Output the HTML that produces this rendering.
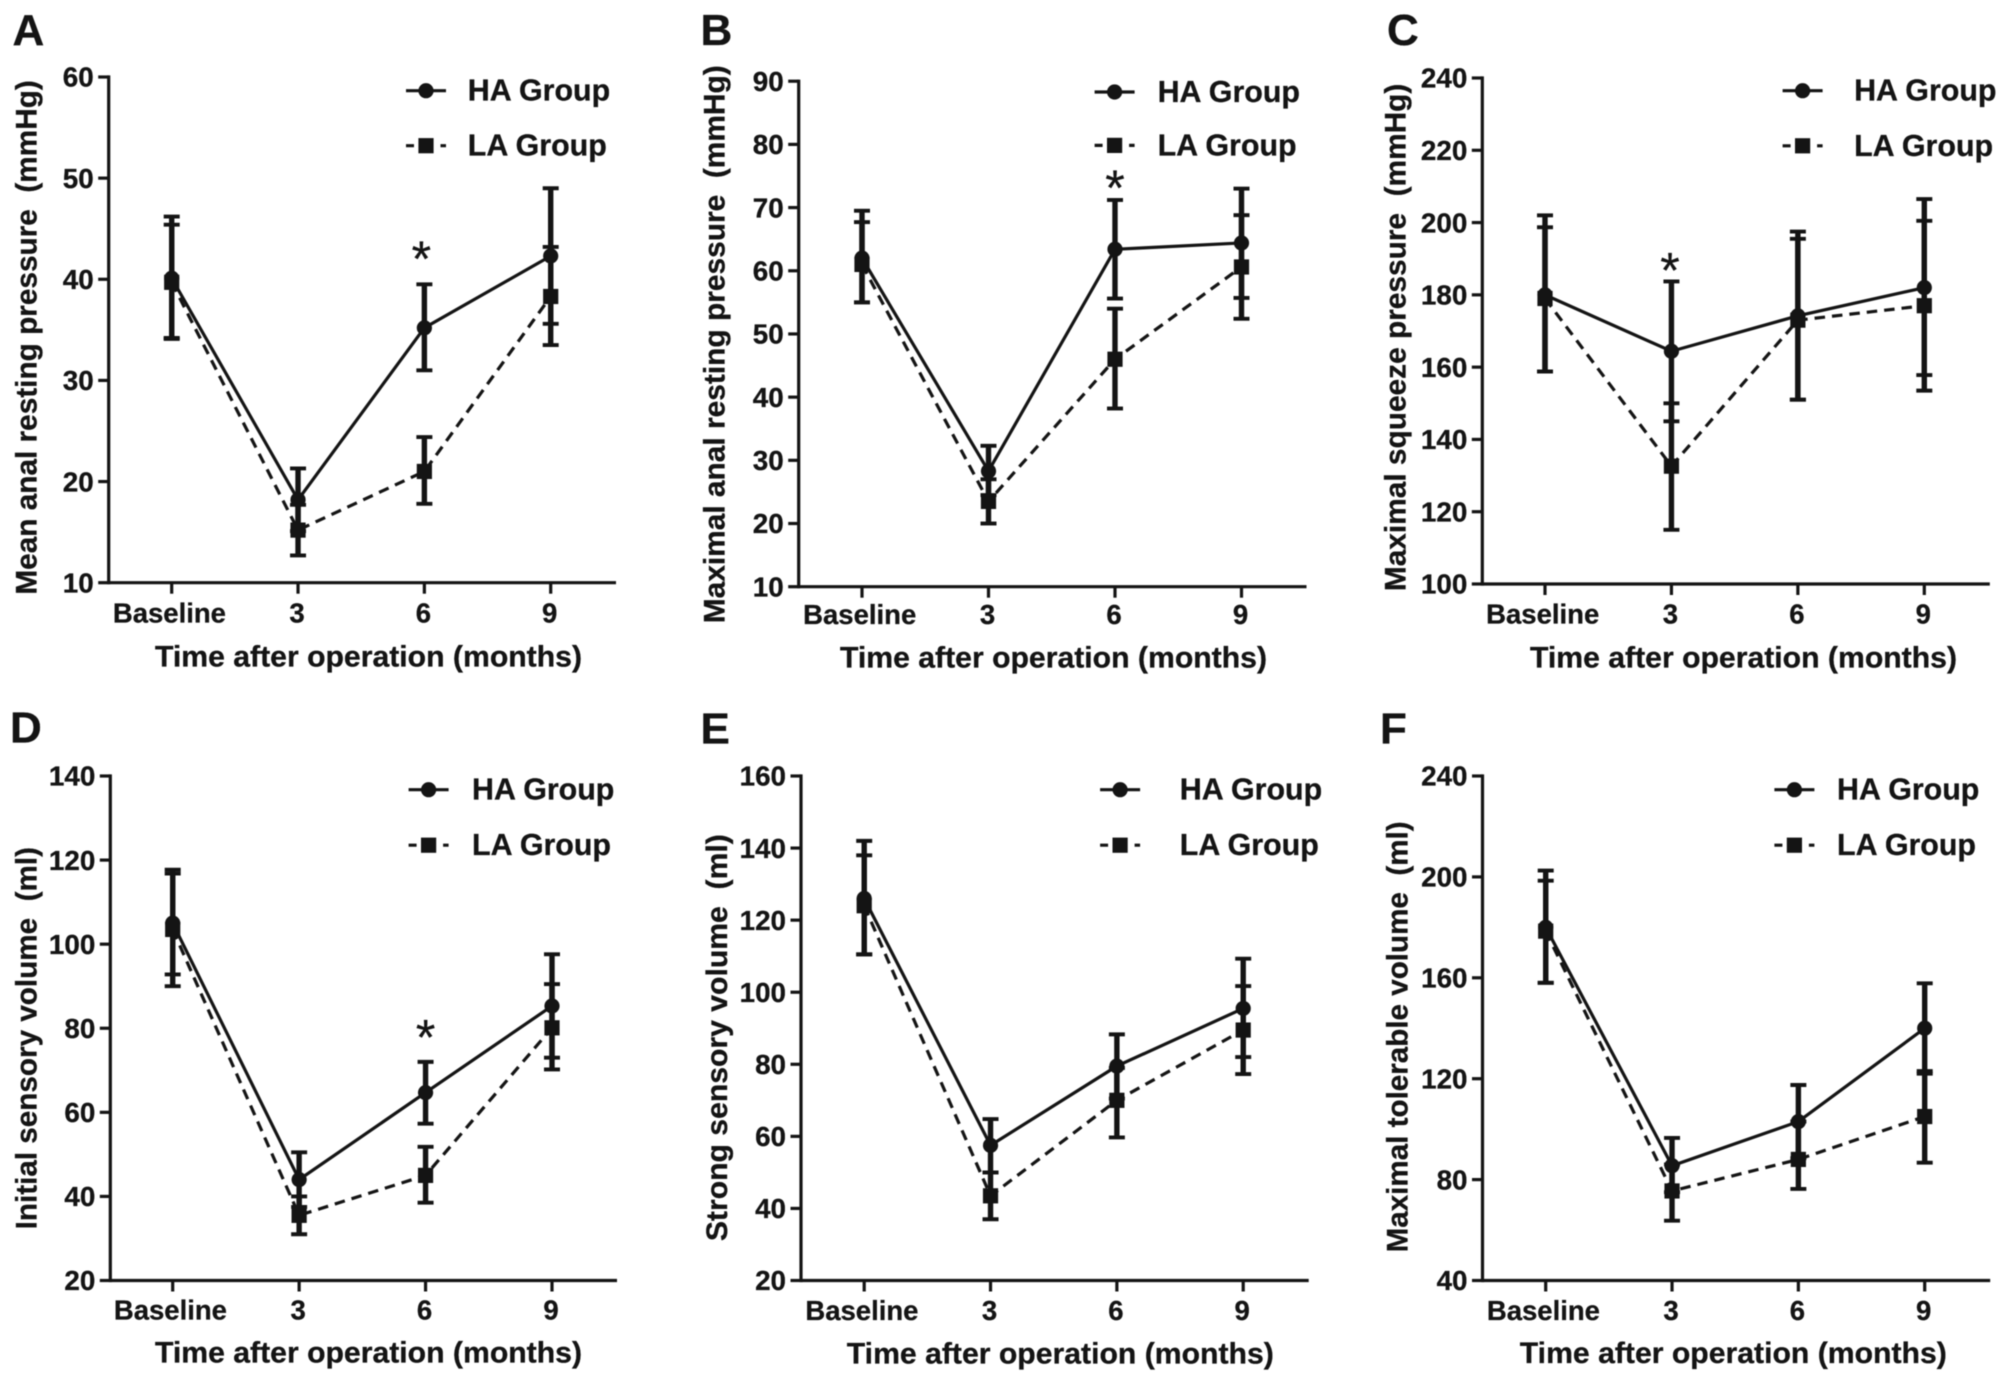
<!DOCTYPE html>
<html lang="en">
<head>
<meta charset="utf-8">
<title>Anorectal manometry outcomes, HA vs LA group</title>
<style>
html,body{margin:0;padding:0;background:#fff;}
svg{display:block;filter:blur(0.6px);}
text{font-family:"Liberation Sans",Arial,sans-serif;font-weight:bold;fill:#141414;stroke:#141414;stroke-width:0.3px;white-space:pre;}
</style>
</head>
<body>
<svg id="figure" xmlns="http://www.w3.org/2000/svg" width="2008" height="1385" viewBox="0 0 2008 1385"></svg>
<script>
const categories = ['Baseline', '3', '6', '9'];
const seriesNames = ['HA Group', 'LA Group'];
const xAxisTitle = 'Time after operation (months)';

const aTicks = [10, 20, 30, 40, 50, 60];
const aHaMean = [40.1, 18.2, 35.2, 42.3];
const aHaUpper = [46.2, 21.3, 39.5, 49.0];
const aHaLower = [34.1, 15.1, 31.0, 35.6];
const aLaMean = [39.7, 15.2, 21.0, 38.3];
const aLaUpper = [45.4, 17.7, 24.4, 43.2];
const aLaLower = [34.2, 12.7, 17.8, 33.5];

const bTicks = [10, 20, 30, 40, 50, 60, 70, 80, 90];
const bHaMean = [62.0, 28.3, 63.4, 64.4];
const bHaUpper = [69.5, 32.3, 71.2, 73.0];
const bHaLower = [55.0, 24.5, 55.6, 55.7];
const bLaMean = [61.0, 23.5, 46.0, 60.6];
const bLaUpper = [67.7, 27.0, 54.0, 68.8];
const bLaLower = [55.0, 20.0, 38.2, 52.4];

const cTicks = [100, 120, 140, 160, 180, 200, 220, 240];
const cHaMean = [180.0, 164.4, 174.2, 182.0];
const cHaUpper = [202.0, 183.7, 197.5, 206.5];
const cHaLower = [158.8, 145.0, 151.0, 157.8];
const cLaMean = [179.0, 132.6, 173.0, 177.0];
const cLaUpper = [198.7, 150.0, 195.5, 200.5];
const cLaLower = [158.8, 115.0, 151.0, 153.5];

const dTicks = [20, 40, 60, 80, 100, 120, 140];
const dHaMean = [105.0, 44.0, 64.7, 85.3];
const dHaUpper = [117.7, 50.5, 72.0, 97.6];
const dHaLower = [92.8, 37.5, 57.3, 73.0];
const dLaMean = [103.5, 35.5, 45.0, 80.1];
const dLaUpper = [116.8, 40.0, 51.8, 90.5];
const dLaLower = [90.0, 31.0, 38.5, 70.2];

const eTicks = [20, 40, 60, 80, 100, 120, 140, 160];
const eHaMean = [126.0, 57.5, 79.5, 95.5];
const eHaUpper = [142.0, 64.8, 88.3, 109.3];
const eHaLower = [110.5, 50.0, 70.5, 82.0];
const eLaMean = [124.0, 43.5, 70.0, 89.5];
const eLaUpper = [138.0, 50.0, 79.0, 101.7];
const eLaLower = [110.5, 37.0, 59.7, 77.3];

const fTicks = [40, 80, 120, 160, 200, 240];
const fHaMean = [180.0, 85.5, 103.0, 140.0];
const fHaUpper = [202.5, 96.5, 117.5, 157.8];
const fHaLower = [158.0, 75.0, 88.5, 122.0];
const fLaMean = [178.5, 75.5, 88.0, 105.0];
const fLaUpper = [198.5, 86.0, 103.0, 123.0];
const fLaLower = [158.0, 63.7, 76.3, 86.7];

const NS = 'http://www.w3.org/2000/svg';
const INK = '#141414';
const figure = document.getElementById('figure');

function make(parent, tag, attrs, content) {
  const node = document.createElementNS(NS, tag);
  for (const key in attrs) node.setAttribute(key, attrs[key]);
  if (content !== undefined) node.textContent = content;
  parent.appendChild(node);
  return node;
}

function drawMarker(parent, isCircle, cx, cy, name) {
  let m;
  if (isCircle) {
    m = make(parent, 'circle', { cx: cx, cy: cy, r: 7.6, fill: INK });
  } else {
    m = make(parent, 'rect', { x: cx - 7.6, y: cy - 7.6, width: 15.2, height: 15.2, fill: INK });
  }
  
  
}

function drawSeries(parent, prefix, isCircle, mean, upper, lower, xScale, yScale) {
  const g = make(parent, 'g', {});
  
  

  mean.forEach((v, i) => {
    const x = xScale(i);
    const bar = make(g, 'line', { x1: x, x2: x, y1: yScale(upper[i]), y2: yScale(lower[i]), stroke: INK, 'stroke-width': 5.4 });
    
    
    [upper[i], lower[i]].forEach((c) => {
      const cap = make(g, 'line', { x1: x - 8, x2: x + 8, y1: yScale(c), y2: yScale(c), stroke: INK, 'stroke-width': 3.9 });
      
      
    });
  });

  const pts = mean.map((v, i) => xScale(i) + ',' + yScale(v)).join(' ');
  const attrs = { points: pts, fill: 'none', stroke: INK, 'stroke-width': 3.2 };
  if (!isCircle) attrs['stroke-dasharray'] = '10.5 7';
  const line = make(g, 'polyline', attrs);
  
  

  mean.forEach((v, i) => {
    drawMarker(g, isCircle, xScale(i), yScale(v), prefix + '-point-' + categories[i].toLowerCase());
  });
}

function drawPanel(p) {
  const g = make(figure, 'g', {});
  
  

  const lo = p.ticks[0];
  const hi = p.ticks[p.ticks.length - 1];
  const yScale = (v) => p.yBottom - (v - lo) / (hi - lo) * (p.yBottom - p.yTop);
  const xScale = (i) => p.xFirst + i * (p.xLast - p.xFirst) / (categories.length - 1);

  const letter = make(g, 'text', { x: p.letterX, y: p.letterY, 'font-size': 44 }, p.letter);
  
  

  const yAxis = make(g, 'line', { x1: p.axisX, x2: p.axisX, y1: p.yTop - 1.6, y2: p.yBottom + 1.6, stroke: INK, 'stroke-width': 3.2 });
  
  

  const xAxis = make(g, 'line', { x1: p.axisX, x2: p.axisEnd, y1: p.yBottom, y2: p.yBottom, stroke: INK, 'stroke-width': 3.2 });
  
  

  p.ticks.forEach((t) => {
    const y = yScale(t);
    const mark = make(g, 'line', { x1: p.axisX - 10.5, x2: p.axisX, y1: y, y2: y, stroke: INK, 'stroke-width': 3.2 });
    
    
    const label = make(g, 'text', { x: p.axisX - 15, y: y + 9.7, 'font-size': 27.8, 'text-anchor': 'end' }, String(t));
    
    
  });

  categories.forEach((c, i) => {
    const x = xScale(i);
    const mark = make(g, 'line', { x1: x, x2: x, y1: p.yBottom, y2: p.yBottom + 11, stroke: INK, 'stroke-width': 3.2 });
    
    
    const label = make(g, 'text', { x: x - (i === 0 ? 2.3 : 1), y: p.xLabelY, 'font-size': 27.5, 'text-anchor': 'middle' }, c);
    
    
  });

  const xTitle = make(g, 'text', { x: p.xTitleX - 1.9, y: p.xTitleY, 'font-size': 30, 'text-anchor': 'middle', textLength: 427, lengthAdjust: 'spacingAndGlyphs' }, xAxisTitle);
  
  

  const yTitle = make(g, 'text', {
    x: 0, y: 0, 'font-size': 30, 'text-anchor': 'middle',
    textLength: p.yTitleLen, lengthAdjust: 'spacingAndGlyphs',
    transform: 'translate(' + p.yTitleX + ',' + p.yTitleY + ') rotate(-90)'
  }, p.yTitle);
  
  

  drawSeries(g, 'ha-group', true, p.haMean, p.haUpper, p.haLower, xScale, yScale);
  drawSeries(g, 'la-group', false, p.laMean, p.laUpper, p.laLower, xScale, yScale);

  if (p.starIndex !== null) {
    const star = make(g, 'text', { x: xScale(p.starIndex) + p.starDx, y: p.starY + 24.5, 'font-size': 50, 'text-anchor': 'middle', style: 'font-weight:normal' }, '*');
    
    
  }

  const legend = make(g, 'g', {});
  
  

  const haKey = make(legend, 'line', { x1: p.legLineX, x2: p.legLineX + 40, y1: p.legY1, y2: p.legY1, stroke: INK, 'stroke-width': 3.2 });
  
  
  drawMarker(legend, true, p.legLineX + 20, p.legY1, 'legend-ha-marker');
  const haText = make(legend, 'text', { x: p.legTextX + 1, y: p.legY1 + 10, 'font-size': 30.4 }, seriesNames[0]);
  
  

  const laKey = make(legend, 'line', { x1: p.legLineX, x2: p.legLineX + 40, y1: p.legY2, y2: p.legY2, stroke: INK, 'stroke-width': 3.2, 'stroke-dasharray': '8 26.5 5.5' });
  
  
  drawMarker(legend, false, p.legLineX + 20, p.legY2, 'legend-la-marker');
  const laText = make(legend, 'text', { x: p.legTextX + 1, y: p.legY2 + 10, 'font-size': 30.4 }, seriesNames[1]);
  
  
}

drawPanel({
  letter: 'A', letterX: 12.5, letterY: 45,
  ticks: aTicks, haMean: aHaMean, haUpper: aHaUpper, haLower: aHaLower, laMean: aLaMean, laUpper: aLaUpper, laLower: aLaLower,
  axisX: 108.7, axisEnd: 616, yTop: 77, yBottom: 582.7, xFirst: 171.7, xLast: 550.7,
  xLabelY: 622.3, xTitleX: 370.4, xTitleY: 666.7,
  yTitle: 'Mean anal resting pressure  (mmHg)', yTitleX: 36.3, yTitleY: 337.4, yTitleLen: 514.5,
  starIndex: 2, starY: 251.7, starDx: -3,
  legLineX: 406, legTextX: 466.8, legY1: 90.7, legY2: 145.7
});

drawPanel({
  letter: 'B', letterX: 700.5, letterY: 45,
  ticks: bTicks, haMean: bHaMean, haUpper: bHaUpper, haLower: bHaLower, laMean: bLaMean, laUpper: bLaUpper, laLower: bLaLower,
  axisX: 798.7, axisEnd: 1306.5, yTop: 81.2, yBottom: 586.7, xFirst: 862, xLast: 1241.5,
  xLabelY: 624, xTitleX: 1055.4, xTitleY: 667.7,
  yTitle: 'Maximal anal resting pressure  (mmHg)', yTitleX: 724.4, yTitleY: 344.3, yTitleLen: 558,
  starIndex: 2, starY: 180.6, starDx: 0,
  legLineX: 1094.6, legTextX: 1156.6, legY1: 92, legY2: 145.4
});

drawPanel({
  letter: 'C', letterX: 1387, letterY: 45,
  ticks: cTicks, haMean: cHaMean, haUpper: cHaUpper, haLower: cHaLower, laMean: cLaMean, laUpper: cLaUpper, laLower: cLaLower,
  axisX: 1482.3, axisEnd: 1989.8, yTop: 78, yBottom: 584, xFirst: 1545, xLast: 1924.3,
  xLabelY: 623.3, xTitleX: 1745.4, xTitleY: 667.7,
  yTitle: 'Maximal squeeze pressure  (mmHg)', yTitleX: 1405.5, yTitleY: 337.4, yTitleLen: 507.5,
  starIndex: 1, starY: 263, starDx: -1.5,
  legLineX: 1782.6, legTextX: 1853.1, legY1: 90.7, legY2: 145.8
});

drawPanel({
  letter: 'D', letterX: 10, letterY: 742.6,
  ticks: dTicks, haMean: dHaMean, haUpper: dHaUpper, haLower: dHaLower, laMean: dLaMean, laUpper: dLaUpper, laLower: dLaLower,
  axisX: 110.3, axisEnd: 617, yTop: 776, yBottom: 1280.5, xFirst: 172.7, xLast: 552,
  xLabelY: 1319.3, xTitleX: 370.4, xTitleY: 1362.7,
  yTitle: 'Initial sensory volume  (ml)', yTitleX: 36.3, yTitleY: 1038.2, yTitleLen: 382.4,
  starIndex: 2, starY: 1029.8, starDx: 0,
  legLineX: 408.6, legTextX: 471, legY1: 789.7, legY2: 845.2
});

drawPanel({
  letter: 'E', letterX: 700.5, letterY: 743.5,
  ticks: eTicks, haMean: eHaMean, haUpper: eHaUpper, haLower: eHaLower, laMean: eLaMean, laUpper: eLaUpper, laLower: eLaLower,
  axisX: 801, axisEnd: 1308.7, yTop: 776, yBottom: 1280.5, xFirst: 864.2, xLast: 1243.2,
  xLabelY: 1320, xTitleX: 1062.2, xTitleY: 1363.5,
  yTitle: 'Strong sensory volume  (ml)', yTitleX: 727, yTitleY: 1037.7, yTitleLen: 407,
  starIndex: null, starY: 0, starDx: 0,
  legLineX: 1100.1, legTextX: 1178.8, legY1: 789.7, legY2: 845.2
});

drawPanel({
  letter: 'F', letterX: 1380, letterY: 743.5,
  ticks: fTicks, haMean: fHaMean, haUpper: fHaUpper, haLower: fHaLower, laMean: fLaMean, laUpper: fLaUpper, laLower: fLaLower,
  axisX: 1482.5, axisEnd: 1990.2, yTop: 776, yBottom: 1280.5, xFirst: 1545.7, xLast: 1924.7,
  xLabelY: 1320, xTitleX: 1735.2, xTitleY: 1363,
  yTitle: 'Maximal tolerable volume  (ml)', yTitleX: 1407.7, yTitleY: 1036.9, yTitleLen: 431,
  starIndex: null, starY: 0, starDx: 0,
  legLineX: 1774.4, legTextX: 1836, legY1: 789.7, legY2: 845.2
});
</script>
</body>
</html>
